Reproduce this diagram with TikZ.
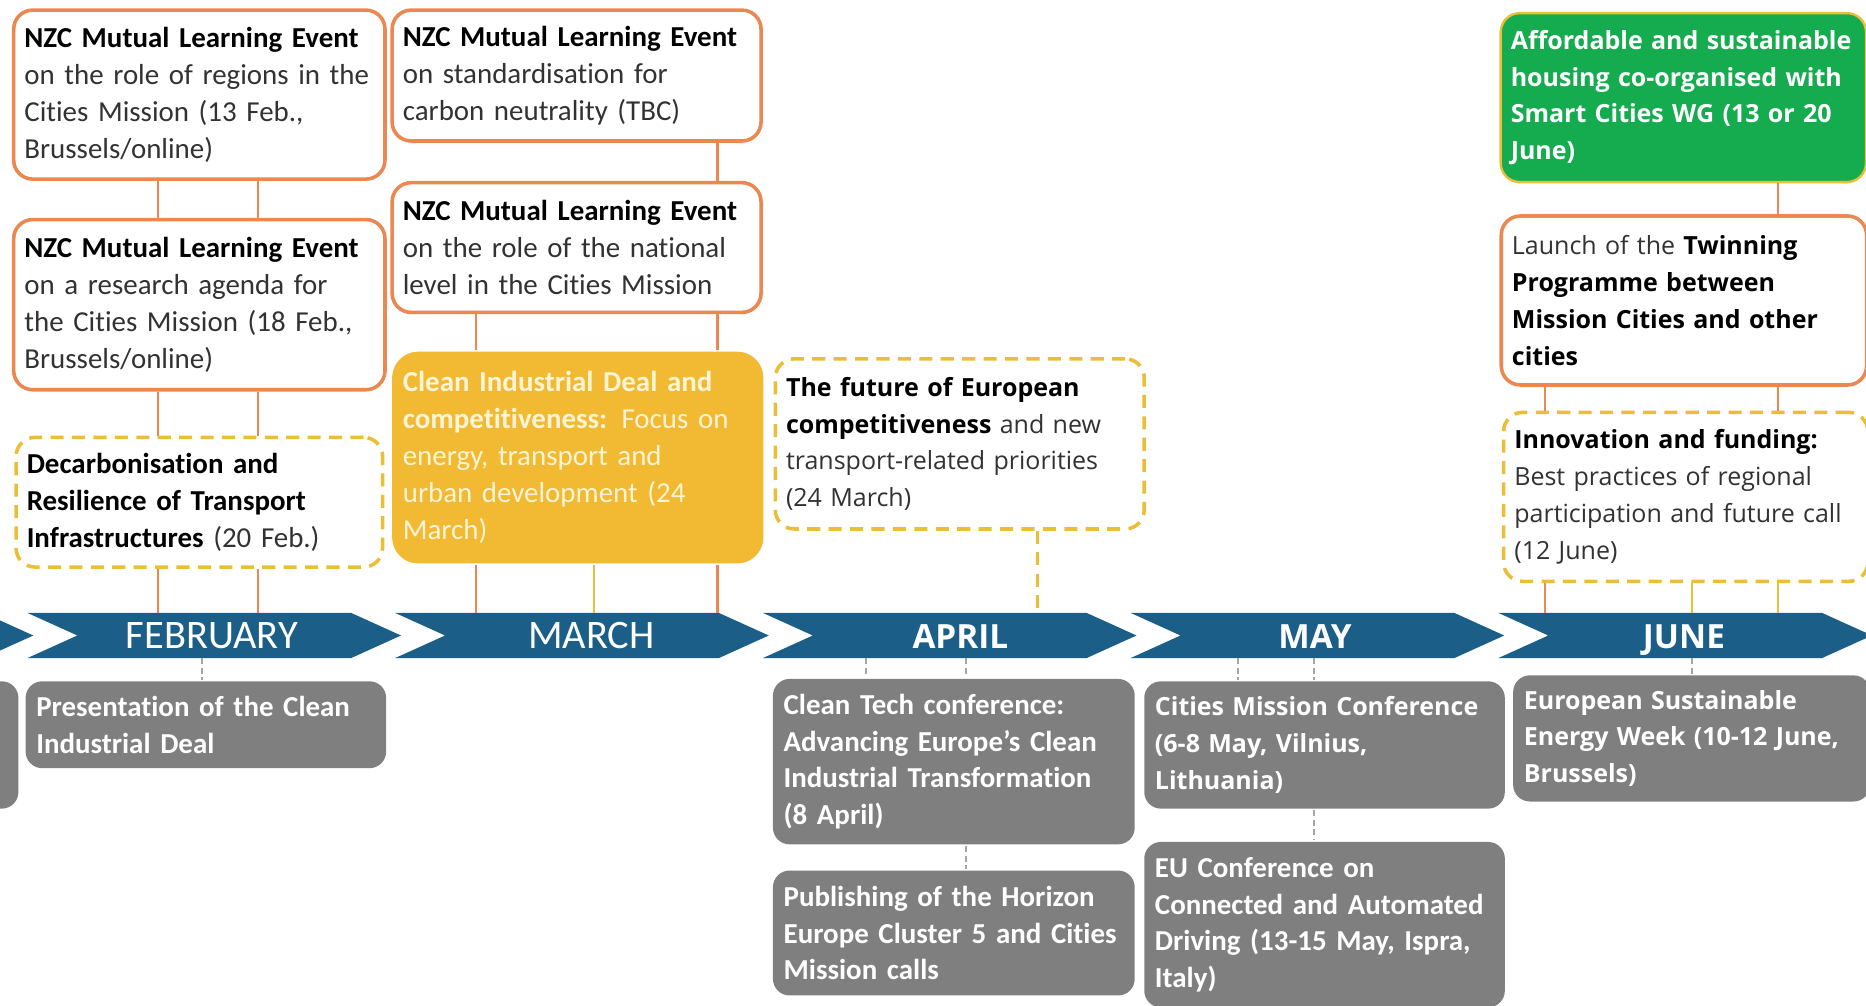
\documentclass[tikz,border=0pt]{standalone}
\usepackage{fontspec}
\setmainfont[Ligatures={TeX,NoCommon}]{Carlito}
\newfontfamily\tahfont{Open Sans}
\usepackage{xcolor}
\usepackage{tikz}
\definecolor{bandblue}{RGB}{27,94,135}
\definecolor{evtorange}{RGB}{235,135,80}
\definecolor{dashgold}{RGB}{236,190,55}
\definecolor{fillgold}{RGB}{242,185,50}
\definecolor{evtgreen}{RGB}{20,172,78}
\definecolor{evtgray}{RGB}{127,127,127}
\definecolor{txtdark}{RGB}{50,50,50}
\definecolor{cream}{RGB}{255,244,214}
\newcommand{\calfont}{\fontsize{24.3}{31}\selectfont}
\newcommand{\tahtext}{\tahfont\fontsize{21}{31}\selectfont}
\newcommand{\bhl}[1]{\textcolor{black}{\bfseries #1}}
\hyphenpenalty=10000
\exhyphenpenalty=10000
\tikzset{
    evt/.style = {rounded corners=16pt, draw=evtorange, line width=3pt, fill=white, align=left, anchor=north west, inner xsep=9pt, inner ysep=0pt, text=txtdark, font=\calfont},
    evtd/.style = {evt, draw=dashgold, dash pattern=on 11pt off 7pt},
    evty/.style = {evt, draw=none, fill=fillgold, rounded corners=22pt, text=cream},
    evtg/.style = {evt, draw=dashgold, line width=2pt, fill=evtgreen, text=white, font=\tahtext\bfseries},
    evtgr/.style = {evt, draw=none, fill=evtgray, rounded corners=14pt, text=white, font=\calfont\bfseries},
    month/.style = {text=white, minimum height=38pt, inner sep=0pt, text height=22pt, text depth=0pt, font=\fontsize{34}{34}\selectfont},
}
\begin{document}
\begin{tikzpicture}[
	x=1pt, y=-1pt,
	line join=round
]
\tikzset{
    oline/.style = {evtorange, line width=2pt},
    yline/.style = {dashgold, line width=2pt},
    ydash/.style = {dashgold, line width=2.5pt, dash pattern=on 11pt off 7pt},
    gline/.style = {evtgray!70, line width=1.5pt, dash pattern=on 5pt off 3pt},
}
\useasboundingbox (0,0) rectangle (1568,845);
\clip (0,0) rectangle (1568,845);
% timeline
\foreach \x in {-286,23,332,641,950,1259}
    \fill[bandblue] (\x,515) -- ++(272,0) -- ++(42,19) -- ++(-42,19) -- ++(-272,0) -- ++(42,-19) -- cycle;
\node[month] at (178,534) (feb) {FEBRUARY};
\node[month] at (497,534) (mar) {MARCH};
\node[month, font=\tahfont\bfseries\fontsize{28}{28}\selectfont] at (807,534) (apr) {APRIL};
\node[month, font=\tahfont\bfseries\fontsize{28}{28}\selectfont] at (1105,534) (may) {MAY};
\node[month, font=\tahfont\bfseries\fontsize{28}{28}\selectfont] at (1415,534) (jun) {JUNE};

% february
\node[evt, text width=294pt, minimum height=142pt] at (10,7) (feba) {\bhl{NZC Mutual Learning Event}\\ on the role of regions in the\\ Cities Mission (13 Feb.,\\ Brussels/online)};
\node[evt, text width=294pt, minimum height=143pt] at (10,183) (febb) {\bhl{NZC Mutual Learning Event}\\ on a research agenda for\\ the Cities Mission (18 Feb.,\\ Brussels/online)};
\node[evtd, text width=290pt, minimum height=109pt] at (12,366) (febc) {\bhl{Decarbonisation and}\\ \bhl{Resilience of Transport}\\ \bhl{Infrastructures} (20 Feb.)};
\node[evtgr, text width=286pt, minimum height=107pt] at (-290,571) (jang) {};
\node[evtgr, text width=285pt, minimum height=73pt] at (20,571) (febg) {Presentation of the Clean\\ Industrial Deal};

% march
\node[evt, text width=292pt, minimum height=110pt] at (328,7) (mara) {\bhl{NZC Mutual Learning Event}\\ on standardisation for\\ carbon neutrality (TBC)};
\node[evt, text width=292pt, minimum height=109pt] at (328,152) (marb) {\bhl{NZC Mutual Learning Event}\\ on the role of the national\\ level in the Cities Mission};
\node[evty, text width=294pt, minimum height=178pt] at (328,294) (marc) {\textbf{Clean Industrial Deal and}\\ \textbf{competitiveness:} Focus on\\ energy, transport and\\ urban development (24\\ March)};

% april
\node[evtd, font=\tahtext, text width=292pt, minimum height=143pt] at (650,300) (apra) {\bhl{The future of European}\\ \bhl{competitiveness} and new\\ transport-related priorities\\ (24 March)};
\node[evtgr, text width=286pt, minimum height=139pt] at (648,569) (apr1) {Clean Tech conference:\\ Advancing Europe's Clean\\ Industrial Transformation\\ (8 April)};
\node[evtgr, text width=286pt, minimum height=105pt] at (648,730) (apr2) {Publishing of the Horizon\\ Europe Cluster 5 and Cities\\ Mission calls};

% may
\node[evtgr, font=\tahtext\bfseries, text width=285pt, minimum height=107pt] at (960,571) (may1) {Cities Mission Conference\\ (6-8 May, Vilnius,\\ Lithuania)};
\node[evtgr, text width=285pt, minimum height=139pt] at (960,706) (may2) {EU Conference on\\ Connected and Automated\\ Driving (13-15 May, Ispra,\\ Italy)};

% june
\node[evtg, inner xsep=8.5pt, text width=290pt, minimum height=142pt] at (1260,10) (juna) {Affordable and sustainable\\ housing co-organised with\\ Smart Cities WG (13 or 20\\ June)};
\node[evt, font=\tahtext, text width=289pt, minimum height=142pt] at (1260,180) (junb) {Launch of the \bhl{Twinning}\\ \bhl{Programme between}\\ \bhl{Mission Cities and other}\\ \bhl{cities}};
\node[evtd, font=\tahtext, text width=288pt, minimum height=142pt] at (1262,345) (junc) {\bhl{Innovation and funding:}\\ Best practices of regional\\ participation and future call\\ (12 June)};
\node[evtgr, font=\tahtext\bfseries, text width=282pt, minimum height=106pt] at (1270,566) (jun1) {European Sustainable\\ Energy Week (10-12 June,\\ Brussels)};

% links above the timeline
\draw[oline] (feba.south -| 133,0) -- (febb.north -| 133,0);
\draw[oline] (feba.south -| 217,0) -- (febb.north -| 217,0);
\draw[oline] (febb.south -| 133,0) -- (febc.north -| 133,0);
\draw[oline] (febb.south -| 217,0) -- (febc.north -| 217,0);
\draw[oline] (febc.south -| 133,0) -- (feb.north -| 133,0);
\draw[oline] (febc.south -| 217,0) -- (feb.north -| 217,0);
\draw[oline] (mara.south -| 603,0) -- (marb.north -| 603,0);
\draw[oline] (marb.south -| 400,0) -- (marc.north -| 400,0);
\draw[oline] (marb.south -| 603,0) -- (marc.north -| 603,0);
\draw[oline] (marc.south -| 400,0) -- (mar.north -| 400,0);
\draw[yline] (marc.south -| 499,0) -- (mar.north -| 499,0);
\draw[oline] (marc.south -| 603,0) -- (mar.north -| 603,0);
\draw[ydash] (apra.south -| 872,0) -- (apr.north -| 872,0);
\draw[oline] (juna.south -| 1494,0) -- (junb.north -| 1494,0);
\draw[oline] (junb.south -| 1298,0) -- (junc.north -| 1298,0);
\draw[oline] (junb.south -| 1494,0) -- (junc.north -| 1494,0);
\draw[oline] (junc.south -| 1298,0) -- (jun.north -| 1298,0);
\draw[yline] (junc.south -| 1422,0) -- (jun.north -| 1422,0);
\draw[yline] (junc.south -| 1494,0) -- (jun.north -| 1494,0);

% links below the timeline
\draw[gline] (feb.south -| 170,0) -- (febg.north -| 170,0);
\draw[gline] (apr.south -| 728,0) -- (apr1.north -| 728,0);
\draw[gline] (apr.south -| 812,0) -- (apr1.north -| 812,0);
\draw[gline] (apr1.south -| 812,0) -- (apr2.north -| 812,0);
\draw[gline] (may.south -| 1040,0) -- (may1.north -| 1040,0);
\draw[gline] (may.south -| 1104,0) -- (may1.north -| 1104,0);
\draw[gline] (may1.south -| 1104,0) -- (may2.north -| 1104,0);
\draw[gline] (jun.south -| 1422,0) -- (jun1.north -| 1422,0);

\end{tikzpicture}
\end{document}
